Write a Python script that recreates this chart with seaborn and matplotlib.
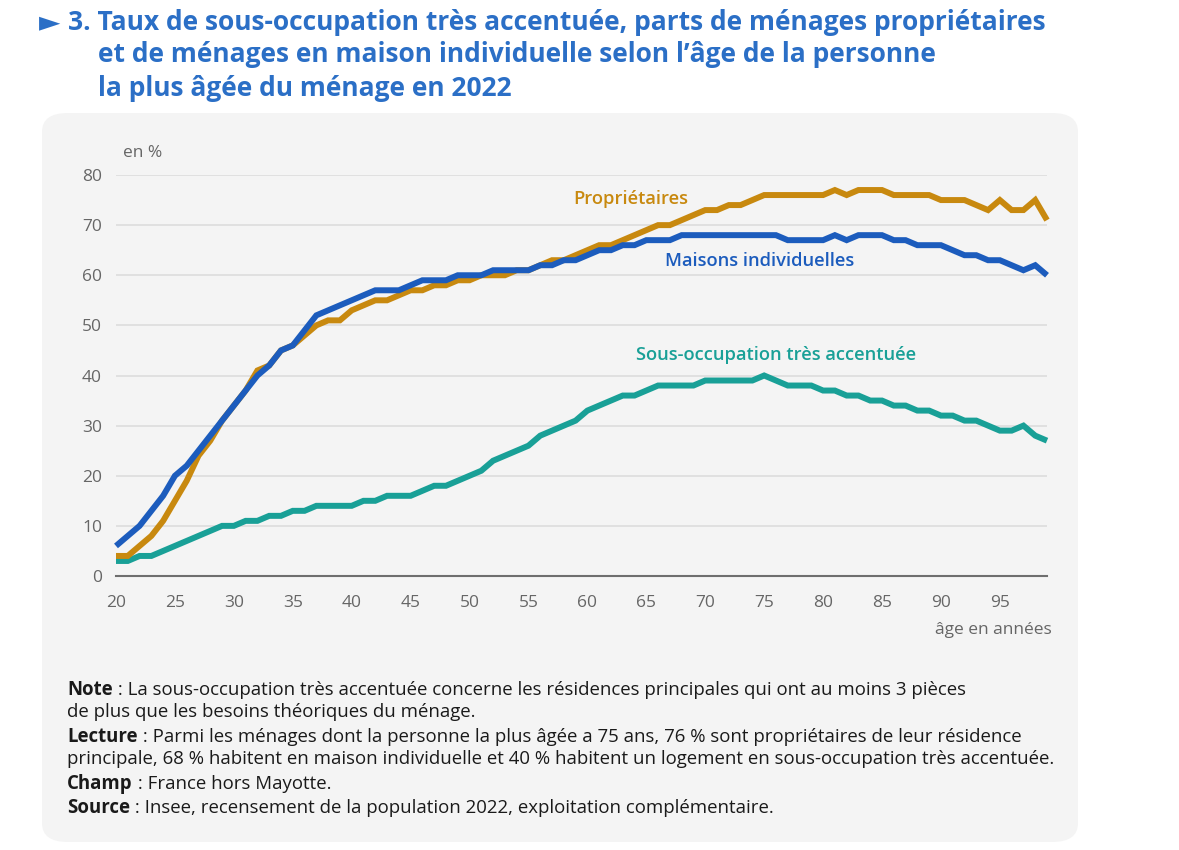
import numpy as np
import pandas as pd
import matplotlib
matplotlib.use("Agg")
import matplotlib.pyplot as plt
import seaborn as sns
from matplotlib.patches import FancyBboxPatch

ages = list(range(20, 100))
proprietaires = [4, 4, 6, 8, 11, 15, 19, 24, 27, 31, 34, 37, 41, 42, 45, 46, 48, 50, 51, 51,
                 53, 54, 55, 55, 56, 57, 57, 58, 58, 59, 59, 60, 60, 60, 61, 61, 62, 63, 63, 64,
                 65, 66, 66, 67, 68, 69, 70, 70, 71, 72, 73, 73, 74, 74, 75, 76, 76, 76, 76, 76,
                 76, 77, 76, 77, 77, 77, 76, 76, 76, 76, 75, 75, 75, 74, 73, 75, 73, 73, 75, 71]
maisons = [6, 8, 10, 13, 16, 20, 22, 25, 28, 31, 34, 37, 40, 42, 45, 46, 49, 52, 53, 54,
           55, 56, 57, 57, 57, 58, 59, 59, 59, 60, 60, 60, 61, 61, 61, 61, 62, 62, 63, 63,
           64, 65, 65, 66, 66, 67, 67, 67, 68, 68, 68, 68, 68, 68, 68, 68, 68, 67, 67, 67,
           67, 68, 67, 68, 68, 68, 67, 67, 66, 66, 66, 65, 64, 64, 63, 63, 62, 61, 62, 60]
sous_occupation = [3, 3, 4, 4, 5, 6, 7, 8, 9, 10, 10, 11, 11, 12, 12, 13, 13, 14, 14, 14,
                   14, 15, 15, 16, 16, 16, 17, 18, 18, 19, 20, 21, 23, 24, 25, 26, 28, 29, 30, 31,
                   33, 34, 35, 36, 36, 37, 38, 38, 38, 38, 39, 39, 39, 39, 39, 40, 39, 38, 38, 38,
                   37, 37, 36, 36, 35, 35, 34, 34, 33, 33, 32, 32, 31, 31, 30, 29, 29, 30, 28, 27]
series_names = ["Propriétaires", "Maisons individuelles", "Sous-occupation très accentuée"]
x_ticks = [20, 25, 30, 35, 40, 45, 50, 55, 60, 65, 70, 75, 80, 85, 90, 95]
y_ticks = [0, 10, 20, 30, 40, 50, 60, 70, 80]

c_or = "#c8890f"
c_bl = "#1c5cbd"
c_te = "#19a097"
c_title = "#2b6fc6"

df = pd.DataFrame({"age": ages * 3,
                   "value": proprietaires + maisons + sous_occupation,
                   "serie": [series_names[0]] * 80 + [series_names[1]] * 80 + [series_names[2]] * 80})

sns.set_theme(style="white")
plt.rcParams['font.family'] = ['Open Sans', 'DejaVu Sans']

fig = plt.figure(figsize=(11.79, 8.5), dpi=100)
fig.patch.set_facecolor("white")

W, H = 1179, 850
panel = FancyBboxPatch((42 / W, 1 - 842 / H), (1078 - 42) / W, (842 - 113) / H,
                       boxstyle="round,pad=0,rounding_size=0.022",
                       transform=fig.transFigure, facecolor="#f4f4f4", edgecolor="none", zorder=-5)
fig.patches.append(panel)

ax = fig.add_axes([116 / W, 1 - 576 / H, (1047 - 116) / W, (576 - 175) / H])
ax.set_zorder(1)
ax.set_facecolor("none")
sns.lineplot(data=df, x="age", y="value", hue="serie", palette=[c_or, c_bl, c_te],
             hue_order=series_names, linewidth=4.3, ax=ax, legend=False, clip_on=False)
for line in ax.lines:
    line.set_solid_capstyle("butt")
    line.set_solid_joinstyle("miter")
ax.lines[1].set_zorder(3.2)
ax.lines[0].set_zorder(3.1)

ax.set_xlim(20, 99)
ax.set_ylim(0, 80)
ax.set_xticks(x_ticks)
ax.set_yticks(y_ticks)
ax.set_xlabel("")
ax.set_ylabel("")
for s in ["top", "right", "left"]:
    ax.spines[s].set_visible(False)
ax.spines["bottom"].set_color("#6e6e6e")
ax.spines["bottom"].set_linewidth(1.5)
ax.yaxis.grid(True, color="#dedede", linewidth=1.3)
ax.set_axisbelow(True)
ax.tick_params(axis="both", length=0, labelsize=12.5, labelcolor="#666666")
ax.tick_params(axis="x", pad=14)
ax.tick_params(axis="y", pad=10)

fig.text(123 / W, 1 - 153 / H, "en %", fontsize=12.5, color="#666666", va="center", ha="left")
fig.text(1052 / W, 1 - 630 / H, "âge en années", fontsize=12.5, color="#666666", va="center", ha="right")

fig.text(631 / W, 1 - 199 / H, series_names[0], fontsize=13.2,
         color=c_or, fontweight="semibold", ha="center", va="center")
fig.text(760 / W, 1 - 261 / H, series_names[1], fontsize=13.2,
         color=c_bl, fontweight="semibold", ha="center", va="center")
fig.text(776 / W, 1 - 355 / H, series_names[2], fontsize=13.2,
         color=c_te, fontweight="semibold", ha="center", va="center")

# Title
title_lines = ["3. Taux de sous-occupation très accentuée, parts de ménages propriétaires",
               "et de ménages en maison individuelle selon l’âge de la personne",
               "la plus âgée du ménage en 2022"]
fig.text(39 / W, 1 - 22 / H, "►", fontsize=20, color=c_title, va="center", ha="left",
         family=["DejaVu Sans"])
fig.text(68 / W, 1 - 22 / H, title_lines[0], fontsize=19, color=c_title, fontweight="bold",
         va="center", ha="left")
fig.text(98 / W, 1 - 55 / H, title_lines[1], fontsize=19, color=c_title, fontweight="bold",
         va="center", ha="left")
fig.text(98 / W, 1 - 88 / H, title_lines[2], fontsize=19, color=c_title, fontweight="bold",
         va="center", ha="left")

# Notes
notes = [
    ("Note", " : La sous-occupation très accentuée concerne les résidences principales qui ont au moins 3 pièces", 690),
    ("", "de plus que les besoins théoriques du ménage.", 712),
    ("Lecture", " : Parmi les ménages dont la personne la plus âgée a 75 ans, 76 % sont propriétaires de leur résidence", 737),
    ("", "principale, 68 % habitent en maison individuelle et 40 % habitent un logement en sous-occupation très accentuée.", 759),
    ("Champ", " : France hors Mayotte.", 784),
    ("Source", " : Insee, recensement de la population 2022, exploitation complémentaire.", 808),
]
renderer = fig.canvas.get_renderer()
for bold, rest, y in notes:
    x0 = 67 / W
    if bold:
        t = fig.text(x0, 1 - y / H, bold, fontsize=13.4, fontweight="bold", color="#1a1a1a",
                     va="center", ha="left")
        bb = t.get_window_extent(renderer=renderer)
        x0 = bb.x1 / fig.bbox.width
    fig.text(x0, 1 - y / H, rest, fontsize=13.4, color="#1a1a1a", va="center", ha="left")

fig.savefig("out.png", dpi=100, facecolor="white")
